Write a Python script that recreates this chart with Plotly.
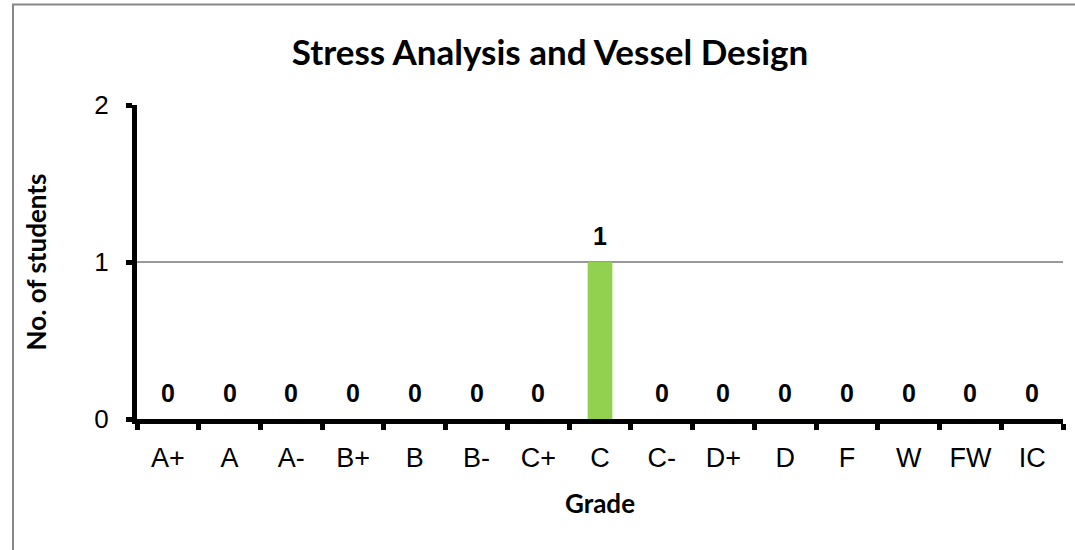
import plotly.graph_objects as go

grades = ["A+", "A", "A-", "B+", "B", "B-", "C+", "C", "C-", "D+", "D", "F", "W", "FW", "IC"]
students = [0, 0, 0, 0, 0, 0, 0, 1, 0, 0, 0, 0, 0, 0, 0]
title_text = "Stress Analysis and Vessel Design"
bar_color = "#92D050"

ARIAL = "Liberation Sans, Arial, sans-serif"
CALIBRI = "Lato, Open Sans, sans-serif"

fig = go.Figure()
fig.add_trace(go.Bar(x=grades, y=students, marker=dict(color=bar_color, line=dict(width=0)),
                     width=0.4, showlegend=False, hoverinfo="x+y"))

for g, v in zip(grades, students):
    fig.add_annotation(x=g, y=v, text="<b>" + str(v) + "</b>", showarrow=False, yanchor="bottom",
                       yshift=10, font=dict(family=ARIAL, size=25, color="black"))

L, R, T, B = 137, 12, 105, 131
W, H = 1075, 550
pw, ph = W - L - R, H - T - B

fig.add_shape(type="rect", xref="paper", yref="paper",
              x0=(13 - L) / pw, x1=(W + 10 - L) / pw,
              y0=-(H + 10 - T - ph) / ph, y1=1 + (T - 4.5) / ph,
              line=dict(color="#888888", width=2), fillcolor="rgba(0,0,0,0)", layer="below")

fig.update_layout(
    width=W, height=H,
    margin=dict(l=L, r=R, t=T, b=B),
    paper_bgcolor="white", plot_bgcolor="white",
    title=dict(text="<b>" + title_text + "</b>", x=550 / W, xref="container", xanchor="center",
               y=1 - 53 / H, yanchor="middle",
               font=dict(family=CALIBRI, size=35, color="black")),
)
fig.update_xaxes(
    type="category", showline=True, linecolor="black", linewidth=5,
    ticks="outside", tickson="boundaries", ticklen=6, tickwidth=5, tickcolor="black",
    tickfont=dict(family=ARIAL, size=27, color="black"),
    ticklabelstandoff=11, showgrid=False,
    title=dict(text="<b>Grade</b>", font=dict(family=CALIBRI, size=26, color="black"),
               standoff=24),
)
fig.update_yaxes(
    range=[0, 2], tickvals=[0, 1, 2], showline=True, linecolor="black", linewidth=5,
    ticks="outside", ticklen=6, tickwidth=5, tickcolor="black",
    tickfont=dict(family=ARIAL, size=26, color="black"),
    ticklabelstandoff=12,
    showgrid=True, gridcolor="#999999", gridwidth=1.5, zeroline=False,
    title=dict(text="<b>No. of students</b>", font=dict(family=CALIBRI, size=26, color="black"),
               standoff=42),
)

fig.write_html("out.html", config={"displayModeBar": False},
               post_script="document.body.style.margin='0';")
